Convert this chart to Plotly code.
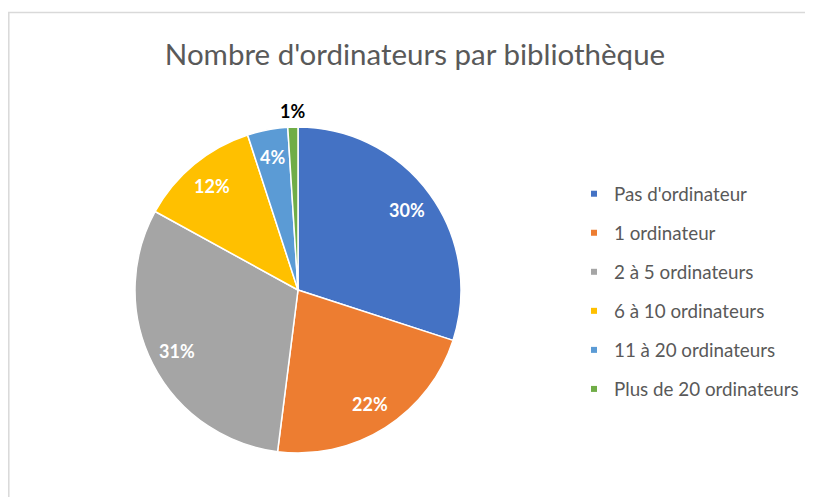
import math
import plotly.graph_objects as go

categories = ["Pas d'ordinateur", "1 ordinateur", "2 à 5 ordinateurs",
              "6 à 10 ordinateurs", "11 à 20 ordinateurs", "Plus de 20 ordinateurs"]
values = [30, 22, 31, 12, 4, 1]
colors = ["#4472C4", "#ED7D31", "#A5A5A5", "#FFC000", "#5B9BD5", "#70AD47"]
title = "Nombre d'ordinateurs par bibliothèque"

OFF = 8  # page body margin
W, H = 813 - OFF, 497 - OFF
FONT = "Lato"
CX, CY, R = 298, 290, 163  # pie centre and radius (page pixels)


def px(p):
    return (p - OFF) / W


def py(p):
    return 1 - (p - OFF) / H


fig = go.Figure()
fig.add_trace(go.Pie(
    labels=categories, values=values, sort=False, direction="clockwise", rotation=0,
    marker=dict(colors=colors, line=dict(color="white", width=1.5)),
    textinfo="none", showlegend=False, hoverinfo="label+percent",
    domain=dict(x=[px(CX - R), px(CX + R)], y=[py(CY + R), py(CY - R)]),
))
for c, col in zip(categories, colors):
    fig.add_trace(go.Scatter(
        x=[None], y=[None], mode="markers", name=c, legendgroup=c,
        marker=dict(symbol="square", size=6, color=col),
    ))

# data labels placed at the middle angle of each slice
total = sum(values)
annotations = []
cum = 0
for v in values:
    mid = (cum + v / 2) / total * 2 * math.pi
    cum += v
    pct = round(v / total * 100)
    outside = v / total < 0.02
    f = 1.1 if outside else 0.83
    x = CX + R * f * math.sin(mid)
    y = CY - R * f * math.cos(mid)
    annotations.append(dict(
        x=px(x), y=py(y), xref="paper", yref="paper", showarrow=False,
        text=f"<b>{pct}%</b>", xanchor="center", yanchor="middle",
        font=dict(family=FONT, size=18, color="black" if outside else "white"),
    ))

fig.update_layout(
    width=W, height=H, margin=dict(l=0, r=0, t=0, b=0),
    paper_bgcolor="white", plot_bgcolor="white",
    title=dict(text=title, x=px(415), xanchor="center", y=py(55), yanchor="middle",
               font=dict(family=FONT, size=29.5, color="#595959")),
    xaxis=dict(visible=False), yaxis=dict(visible=False),
    legend=dict(x=px(574), xanchor="left", y=py(175), yanchor="top",
                font=dict(family=FONT, size=18.8, color="#595959"),
                tracegroupgap=11.6, itemwidth=30),
    annotations=annotations,
    shapes=[dict(type="rect", xref="paper", yref="paper",
                 x0=0.8 / W, x1=1.2, y0=-0.2, y1=py(12.5),
                 line=dict(color="#D9D9D9", width=1.5), fillcolor="rgba(0,0,0,0)")],
)
fig.write_html("out.html")
